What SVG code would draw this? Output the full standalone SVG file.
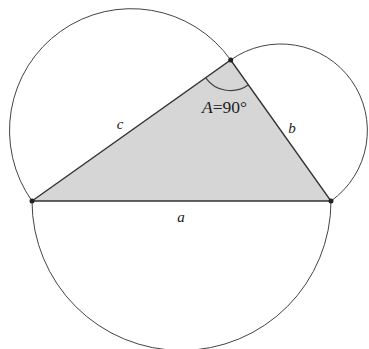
<svg xmlns="http://www.w3.org/2000/svg" width="369" height="349" viewBox="0 0 369 349">
<style>
.arc{fill:none;stroke:#444;stroke-width:1}
.side{stroke:#333;stroke-width:1.4;fill:none}
.dot{fill:#222}
.lbl{font-family:"Liberation Serif",serif;font-style:italic;font-size:15px;fill:#222}
.ang{font-family:"Liberation Serif",serif;font-size:17.5px;fill:#222}
</style>
<rect width="369" height="349" fill="#fff"/>
<g id="semicircles">
<path class="arc" d="M32,201 A149.5,149.5 0 0 0 331,201"/>
<path class="arc" d="M32,201 A121.8,121.8 0 0 1 230.7,60"/>
<path class="arc" d="M230.7,60 A86.5,86.5 0 0 1 331,201"/>
</g>
<g id="triangle">
<polygon points="32,201 230.7,60 331,201" fill="#d6d6d6"/>
<polygon class="side" points="32,201 230.7,60 331,201"/>
<path class="arc" d="M205.7,77.8 A30.5,30.5 0 0 0 248.8,84.6" style="stroke-width:1.2"/>
</g>
<g id="vertices">
<circle class="dot" cx="32" cy="201" r="2.5"/>
<circle class="dot" cx="331" cy="201" r="2.5"/>
<circle class="dot" cx="230.7" cy="60" r="2.5"/>
</g>
<g id="labels">
<text class="ang" x="202" y="112.5"><tspan font-style="italic">A</tspan>=90°</text>
<text class="lbl" x="120" y="129" text-anchor="middle">c</text>
<text class="lbl" x="292" y="133" text-anchor="middle">b</text>
<text class="lbl" x="181" y="222" text-anchor="middle">a</text>
</g>
</svg>
